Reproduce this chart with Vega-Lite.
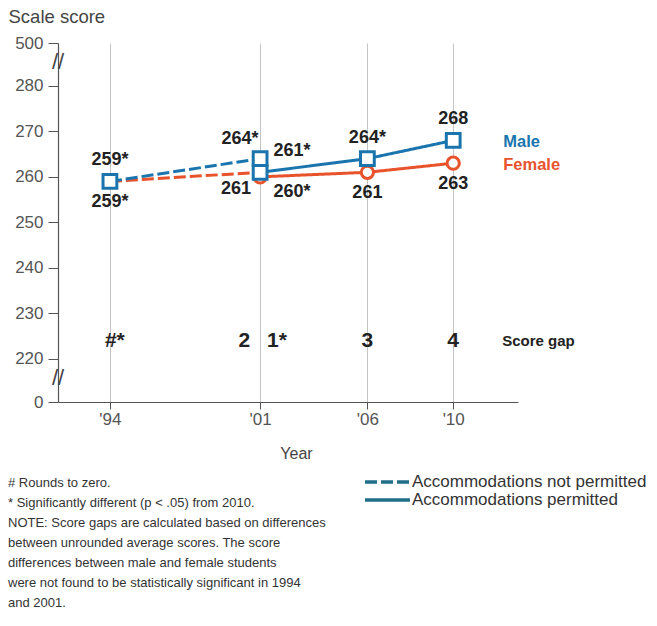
{
  "$schema": "https://vega.github.io/schema/vega-lite/v6.json",
  "width": 460,
  "height": 359,
  "autosize": {"type": "none"},
  "padding": {"left": 58, "top": 43, "right": 139, "bottom": 224},
  "background": "white",
  "config": {
    "view": {"stroke": null},
    "font": "Liberation Sans",
    "legend": {
      "orient": "none",
      "legendX": 305,
      "legendY": 430,
      "symbolType": "stroke",
      "symbolSize": 2025,
      "symbolStrokeWidth": 3.5,
      "symbolStrokeColor": "#1f6d86",
      "labelFont": "Liberation Sans",
      "labelFontSize": 17,
      "labelColor": "#333333",
      "labelOffset": 0,
      "labelLimit": 400,
      "clipHeight": 18,
      "rowPadding": 0
    }
  },
  "title": {
    "text": [
      "# Rounds to zero.",
      "* Significantly different (p < .05) from 2010.",
      "NOTE: Score gaps are calculated based on differences",
      "between unrounded average scores. The score",
      "differences between male and female students",
      "were not found to be statistically significant in 1994",
      "and 2001."
    ],
    "orient": "bottom",
    "anchor": "start",
    "frame": "group",
    "dx": -50,
    "offset": -32,
    "font": "Liberation Sans",
    "fontSize": 13,
    "fontWeight": "normal",
    "color": "#333333",
    "lineHeight": 20
  },
  "datasets": {
    "scores": [
      {"year": 1994, "gender": "Female", "accom": "Accommodations not permitted", "score": 259, "label": "259*"},
      {"year": 2001, "gender": "Female", "accom": "Accommodations not permitted", "score": 261, "label": "261"},
      {"year": 2001, "gender": "Female", "accom": "Accommodations permitted", "score": 260, "label": "260*"},
      {"year": 2006, "gender": "Female", "accom": "Accommodations permitted", "score": 261, "label": "261"},
      {"year": 2010, "gender": "Female", "accom": "Accommodations permitted", "score": 263, "label": "263"},
      {"year": 1994, "gender": "Male", "accom": "Accommodations not permitted", "score": 259, "label": "259*"},
      {"year": 2001, "gender": "Male", "accom": "Accommodations not permitted", "score": 264, "label": "264*"},
      {"year": 2001, "gender": "Male", "accom": "Accommodations permitted", "score": 261, "label": "261*"},
      {"year": 2006, "gender": "Male", "accom": "Accommodations permitted", "score": 264, "label": "264*"},
      {"year": 2010, "gender": "Male", "accom": "Accommodations permitted", "score": 268, "label": "268"}
    ],
    "gaps": [
      {"year": 1994, "gap": "#*"},
      {"year": 2001, "gap": "2"},
      {"year": 2001, "gap": "1*"},
      {"year": 2006, "gap": "3"},
      {"year": 2010, "gap": "4"}
    ],
    "breaks": [{"year": 1991.58, "score": 285.2}, {"year": 1991.58, "score": 215.9}]
  },
  "data": {"name": "scores"},
  "encoding": {
    "x": {
      "field": "year",
      "type": "quantitative",
      "scale": {"domain": [1991.58, 2013.02], "nice": false, "zero": false},
      "axis": {
        "values": [1994, 2001, 2006, 2010],
        "labelExpr": "\"'\" + slice(format(datum.value, 'd'), 2)",
        "grid": true,
        "gridColor": "#c4c4c4",
        "gridWidth": 1,
        "domainColor": "#555555",
        "domainWidth": 1.2,
        "tickColor": "#555555",
        "tickSize": 7,
        "labelPadding": 2,
        "labelFont": "Liberation Sans",
        "labelFontSize": 17,
        "labelColor": "#555555",
        "title": "Year",
        "titleFont": "Liberation Sans",
        "titleFontSize": 16,
        "titleFontWeight": "normal",
        "titleColor": "#444444",
        "titlePadding": 18,
        "titleX": 238
      }
    }
  },
  "layer": [
    {
      "mark": {"type": "line", "strokeWidth": 3},
      "encoding": {
        "y": {
          "field": "score",
          "type": "quantitative",
          "scale": {"domain": [210.55, 289.4], "nice": false, "zero": false},
          "axis": {
            "values": [210.55, 220, 230, 240, 250, 260, 270, 280, 289.4],
            "labelExpr": "datum.value < 215 ? '0' : (datum.value > 285 ? '500' : format(datum.value, 'd'))",
            "grid": false,
            "domainColor": "#555555",
            "domainWidth": 1.2,
            "tickColor": "#555555",
            "tickSize": 10,
            "labelPadding": 5,
            "labelFont": "Liberation Sans",
            "labelFontSize": 17,
            "labelColor": "#555555",
            "title": "Scale score",
            "titleAngle": 0,
            "titleAlign": "left",
            "titleBaseline": "alphabetic",
            "titleX": -50,
            "titleY": -20.5,
            "titleFont": "Liberation Sans",
            "titleFontSize": 18.5,
            "titleFontWeight": "normal",
            "titleColor": "#444444"
          }
        },
        "color": {"field": "gender", "type": "nominal", "scale": {"domain": ["Male", "Female"], "range": ["#1a74ad", "#e8532c"]}, "legend": null},
        "strokeDash": {"field": "accom", "type": "nominal", "scale": {"domain": ["Accommodations not permitted", "Accommodations permitted"], "range": [[12, 4], [1, 0]]}, "legend": {"title": null}}
      }
    },
    {
      "transform": [{"filter": "datum.gender == 'Female'"}],
      "mark": {"type": "point", "shape": "circle", "filled": true, "fill": "white", "stroke": "#e8532c", "strokeWidth": 3, "size": 150, "opacity": 1},
      "encoding": {"y": {"field": "score", "type": "quantitative"}}
    },
    {
      "transform": [{"filter": "datum.gender == 'Male'"}],
      "mark": {"type": "point", "shape": "square", "filled": true, "fill": "white", "stroke": "#1a74ad", "strokeWidth": 3, "size": 190, "opacity": 1},
      "encoding": {"y": {"field": "score", "type": "quantitative"}}
    },
    {
      "transform": [{"filter": "datum.gender == 'Male' && datum.year != 2001"}],
      "mark": {"type": "text", "font": "Liberation Sans", "fontSize": 18, "fontWeight": "bold", "color": "#222222", "dy": -21, "baseline": "middle"},
      "encoding": {"y": {"field": "score", "type": "quantitative"}, "text": {"field": "label"}}
    },
    {
      "transform": [{"filter": "datum.gender == 'Male' && datum.year == 2001 && datum.accom == 'Accommodations not permitted'"}],
      "mark": {"type": "text", "font": "Liberation Sans", "fontSize": 18, "fontWeight": "bold", "color": "#222222", "dx": -20, "dy": -20, "baseline": "middle"},
      "encoding": {"y": {"field": "score", "type": "quantitative"}, "text": {"field": "label"}}
    },
    {
      "transform": [{"filter": "datum.gender == 'Male' && datum.year == 2001 && datum.accom == 'Accommodations permitted'"}],
      "mark": {"type": "text", "font": "Liberation Sans", "fontSize": 18, "fontWeight": "bold", "color": "#222222", "dx": 32, "dy": -21, "baseline": "middle"},
      "encoding": {"y": {"field": "score", "type": "quantitative"}, "text": {"field": "label"}}
    },
    {
      "transform": [{"filter": "datum.gender == 'Female' && datum.year != 2001"}],
      "mark": {"type": "text", "font": "Liberation Sans", "fontSize": 18, "fontWeight": "bold", "color": "#222222", "dy": 21, "baseline": "middle"},
      "encoding": {"y": {"field": "score", "type": "quantitative"}, "text": {"field": "label"}}
    },
    {
      "transform": [{"filter": "datum.gender == 'Female' && datum.year == 2001 && datum.accom == 'Accommodations not permitted'"}],
      "mark": {"type": "text", "font": "Liberation Sans", "fontSize": 18, "fontWeight": "bold", "color": "#222222", "dx": -24, "dy": 17, "baseline": "middle"},
      "encoding": {"y": {"field": "score", "type": "quantitative"}, "text": {"field": "label"}}
    },
    {
      "transform": [{"filter": "datum.gender == 'Female' && datum.year == 2001 && datum.accom == 'Accommodations permitted'"}],
      "mark": {"type": "text", "font": "Liberation Sans", "fontSize": 18, "fontWeight": "bold", "color": "#222222", "dx": 32, "dy": 15, "baseline": "middle"},
      "encoding": {"y": {"field": "score", "type": "quantitative"}, "text": {"field": "label"}}
    },
    {
      "transform": [{"filter": "datum.year == 2010"}],
      "mark": {"type": "text", "font": "Liberation Sans", "fontSize": 16.5, "fontWeight": "bold", "align": "left", "dx": 50, "dy": 1.5, "baseline": "middle"},
      "encoding": {
        "y": {"field": "score", "type": "quantitative"},
        "text": {"field": "gender"},
        "color": {"field": "gender", "type": "nominal", "legend": null}
      }
    },
    {
      "data": {"name": "gaps"},
      "transform": [{"filter": "datum.year == 2006 || datum.year == 2010"}],
      "mark": {"type": "text", "font": "Liberation Sans", "fontSize": 21, "fontWeight": "bold", "color": "#222222", "baseline": "middle"},
      "encoding": {"y": {"datum": 224, "type": "quantitative"}, "text": {"field": "gap"}}
    },
    {
      "data": {"name": "gaps"},
      "transform": [{"filter": "datum.year == 1994"}],
      "mark": {"type": "text", "font": "Liberation Sans", "fontSize": 21, "fontWeight": "bold", "color": "#222222", "baseline": "middle", "align": "left", "dx": -5},
      "encoding": {"y": {"datum": 224, "type": "quantitative"}, "text": {"field": "gap"}}
    },
    {
      "data": {"name": "gaps"},
      "transform": [{"filter": "datum.gap == '2'"}],
      "mark": {"type": "text", "font": "Liberation Sans", "fontSize": 21, "fontWeight": "bold", "color": "#222222", "baseline": "middle", "align": "right", "dx": -10},
      "encoding": {"y": {"datum": 224, "type": "quantitative"}, "text": {"field": "gap"}}
    },
    {
      "data": {"name": "gaps"},
      "transform": [{"filter": "datum.gap == '1*'"}],
      "mark": {"type": "text", "font": "Liberation Sans", "fontSize": 21, "fontWeight": "bold", "color": "#222222", "baseline": "middle", "align": "left", "dx": 7},
      "encoding": {"y": {"datum": 224, "type": "quantitative"}, "text": {"field": "gap"}}
    },
    {
      "data": {"values": [{"year": 2010, "label": "Score gap"}]},
      "mark": {"type": "text", "font": "Liberation Sans", "fontSize": 15, "fontWeight": "bold", "color": "#222222", "baseline": "middle", "align": "left", "dx": 49},
      "encoding": {"y": {"datum": 224, "type": "quantitative"}, "text": {"field": "label"}}
    },
    {
      "data": {"name": "breaks"},
      "mark": {"type": "text", "font": "Liberation Sans", "fontSize": 22, "color": "#444444", "baseline": "middle", "align": "center"},
      "encoding": {"y": {"field": "score", "type": "quantitative"}, "text": {"value": "//"}}
    }
  ]
}
